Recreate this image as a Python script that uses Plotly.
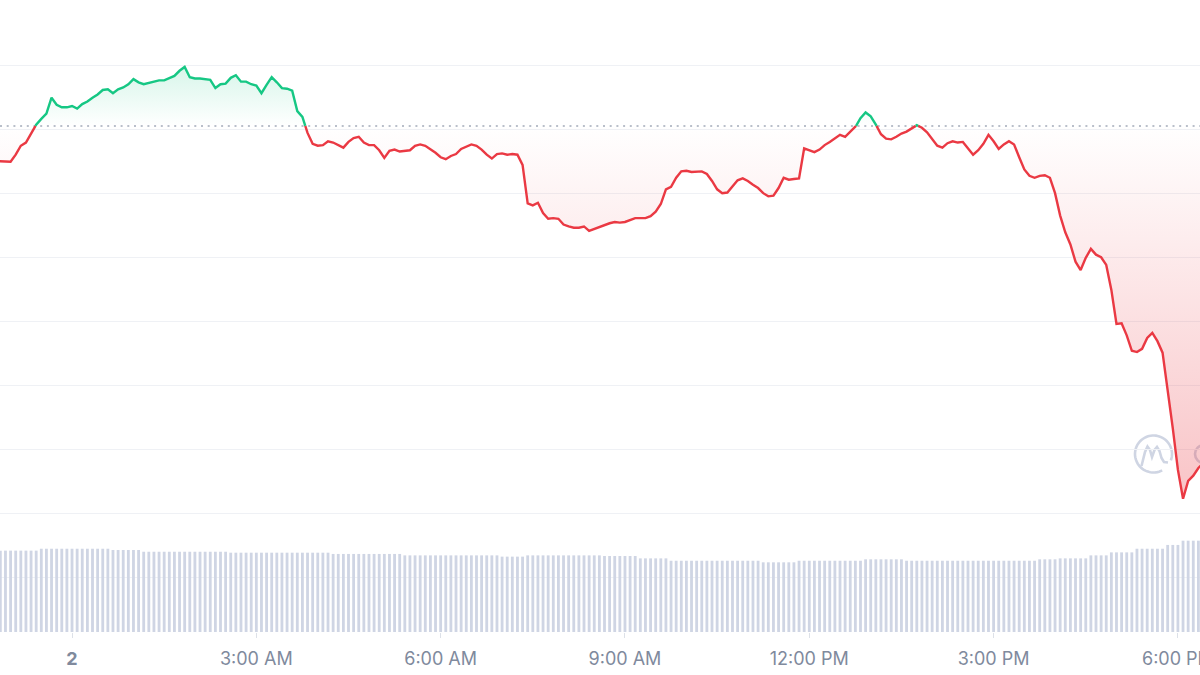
import numpy as np
import pandas as pd
import plotly.graph_objects as go

# ---------------- data ----------------
START_TIME = "2022-06-01 22:45"          # first 5-minute sample
PRICE = [
    35.50, 35.50, 35.49, 35.49, 35.60, 35.74, 35.79, 35.92, 36.07, 36.16,
    36.24, 36.49, 36.38, 36.34, 36.34, 36.36, 36.32, 36.39, 36.43, 36.49,
    36.54, 36.61, 36.62, 36.56, 36.62, 36.65, 36.70, 36.78, 36.73, 36.70,
    36.72, 36.74, 36.76, 36.76, 36.80, 36.83, 36.91, 36.97, 36.81, 36.79,
    36.79, 36.78, 36.77, 36.64, 36.70, 36.71, 36.80, 36.84, 36.74, 36.74,
    36.70, 36.68, 36.56, 36.69, 36.81, 36.73, 36.64, 36.63, 36.60, 36.28,
    36.19, 35.94, 35.77, 35.74, 35.75, 35.81, 35.79, 35.75, 35.71, 35.80,
    35.86, 35.88, 35.79, 35.75, 35.75, 35.67, 35.55, 35.66, 35.68, 35.65,
    35.66, 35.67, 35.74, 35.76, 35.74, 35.69, 35.63, 35.56, 35.53, 35.58,
    35.61, 35.69, 35.73, 35.76, 35.74, 35.68, 35.60, 35.54, 35.61, 35.62,
    35.60, 35.61, 35.60, 35.44, 34.84, 34.81, 34.85, 34.69, 34.60, 34.61,
    34.60, 34.51, 34.48, 34.46, 34.46, 34.48, 34.41, 34.44, 34.48, 34.50,
    34.53, 34.55, 34.54, 34.55, 34.58, 34.61, 34.61, 34.61, 34.64, 34.71,
    34.83, 35.06, 35.10, 35.24, 35.34, 35.35, 35.33, 35.33, 35.34, 35.30,
    35.19, 35.06, 35.00, 35.01, 35.10, 35.20, 35.23, 35.19, 35.13, 35.08,
    35.00, 34.95, 34.96, 35.08, 35.24, 35.21, 35.22, 35.23, 35.70, 35.67,
    35.64, 35.68, 35.75, 35.80, 35.85, 35.91, 35.88, 35.96, 36.03, 36.17,
    36.26, 36.20, 36.07, 35.92, 35.85, 35.84, 35.88, 35.93, 35.96, 36.01,
    36.06, 36.02, 35.95, 35.85, 35.74, 35.71, 35.78, 35.81, 35.79, 35.80,
    35.70, 35.60, 35.67, 35.77, 35.91, 35.81, 35.69, 35.76, 35.81, 35.76,
    35.56, 35.37, 35.27, 35.24, 35.27, 35.28, 35.24, 35.00, 34.65, 34.39,
    34.20, 33.93, 33.80, 33.99, 34.13, 34.04, 34.00, 33.88, 33.49, 32.96,
    32.97, 32.78, 32.54, 32.52, 32.57, 32.74, 32.82, 32.69, 32.51, 31.93,
    31.33, 30.68, 30.23, 30.51, 30.59, 30.71, 30.79,
]
VOLUME = [  # millions
    51.5, 51.5, 51.5, 51.5, 51.5, 51.5, 51.5, 51.5, 51.5, 52.7,
    52.7, 52.7, 52.7, 52.7, 52.7, 52.7, 52.7, 52.7, 52.7, 52.7,
    52.7, 52.7, 52.7, 51.9, 51.9, 51.9, 51.9, 51.9, 51.9, 50.8,
    50.8, 50.8, 50.8, 50.8, 50.8, 50.8, 50.8, 50.8, 50.8, 50.8,
    50.8, 50.8, 50.8, 50.8, 50.8, 50.8, 50.2, 50.2, 50.2, 50.2,
    50.2, 50.2, 50.2, 50.2, 50.2, 50.2, 50.2, 50.2, 50.2, 50.2,
    50.2, 50.2, 50.2, 50.2, 50.2, 50.2, 49.4, 49.4, 49.4, 49.4,
    49.4, 49.4, 49.4, 49.4, 49.4, 49.4, 49.4, 49.4, 49.4, 49.4,
    48.5, 48.5, 48.5, 48.5, 48.5, 48.5, 48.5, 48.5, 48.5, 48.5,
    48.5, 48.5, 48.5, 48.5, 48.5, 48.5, 48.5, 48.5, 48.5, 47.7,
    47.7, 47.7, 47.7, 47.7, 48.5, 48.5, 48.5, 48.5, 48.5, 48.5,
    48.5, 48.5, 48.5, 48.5, 48.5, 48.5, 48.5, 48.5, 48.5, 48.1,
    48.1, 48.1, 48.1, 48.1, 48.1, 48.1, 46.6, 46.6, 46.6, 46.6,
    46.6, 46.6, 45.1, 45.1, 45.1, 45.1, 45.1, 45.1, 45.1, 45.1,
    45.1, 45.1, 45.1, 45.1, 45.1, 45.1, 45.1, 45.1, 45.1, 45.1,
    44.1, 44.1, 44.1, 44.1, 44.1, 44.1, 44.1, 45.1, 45.1, 45.1,
    45.1, 45.1, 45.1, 45.1, 45.1, 45.1, 45.1, 45.1, 45.1, 45.1,
    46.0, 46.0, 46.0, 46.0, 46.0, 46.0, 46.0, 46.0, 45.1, 45.1,
    45.1, 45.1, 45.1, 45.1, 45.1, 45.1, 45.1, 45.1, 45.1, 45.1,
    45.1, 45.1, 45.1, 45.1, 45.1, 45.1, 45.1, 45.1, 45.1, 45.1,
    45.1, 45.1, 45.1, 45.1, 46.0, 46.0, 46.0, 46.0, 46.6, 46.6,
    46.6, 46.6, 46.6, 46.6, 48.5, 48.5, 48.5, 48.5, 50.4, 50.4,
    50.4, 50.4, 50.4, 52.7, 52.7, 52.7, 52.7, 52.7, 52.7, 55.1,
    55.1, 55.1, 57.8, 57.8, 57.8, 57.8, 57.8,
]
OPEN_PRICE = 36.05
TICK_TIMES = ["2022-06-02 00:00", "2022-06-02 03:00", "2022-06-02 06:00",
              "2022-06-02 09:00", "2022-06-02 12:00", "2022-06-02 15:00",
              "2022-06-02 18:00"]
TICK_LABELS = ["<b>2</b>", "3:00 AM", "6:00 AM", "9:00 AM", "12:00 PM",
               "3:00 PM", "6:00 PM"]
GRID_LEVELS = [29, 30, 31, 32, 33, 34, 35, 36, 37]
X_RANGE = ["2022-06-01 22:49:40", "2022-06-02 18:21:34"]
Y_RANGE = [28.1505, 38.0147]
VOL_RANGE = [0, 400]

assert len(PRICE) == len(VOLUME)

# ---------------- styles ----------------
GREEN = "#16c784"
RED = "#ea3943"
BAR = "#cfd5e4"
GRID = "#eff1f5"
LABEL = "#808a9d"
FONT = "Inter, Roboto, sans-serif"

times = pd.date_range(START_TIME, periods=len(PRICE), freq="5min")

# insert crossing points with the open price so the colours split cleanly
ts, ps = [], []
for k in range(len(PRICE)):
    if k > 0:
        a = PRICE[k - 1] - OPEN_PRICE
        b = PRICE[k] - OPEN_PRICE
        if a * b < 0:
            f = a / (a - b)
            ts.append(times[k - 1] + (times[k] - times[k - 1]) * f)
            ps.append(OPEN_PRICE)
    ts.append(times[k])
    ps.append(PRICE[k])

upper = [max(p, OPEN_PRICE) for p in ps]
lower = [min(p, OPEN_PRICE) for p in ps]
green_line = [p if p >= OPEN_PRICE else None for p in ps]
red_line = [p if p <= OPEN_PRICE else None for p in ps]
base = [OPEN_PRICE] * len(ps)

fig = go.Figure()

fig.add_trace(go.Bar(x=times, y=VOLUME, marker=dict(color=BAR, line=dict(width=0)),
                     yaxis="y2", hoverinfo="skip", showlegend=False))

fig.add_trace(go.Scatter(x=ts, y=base, mode="lines", line=dict(width=0),
                         hoverinfo="skip", showlegend=False))
fig.add_trace(go.Scatter(
    x=ts, y=upper, mode="lines", line=dict(width=0), fill="tonexty",
    fillgradient=dict(type="vertical",
                      colorscale=[[0, "rgba(22,199,132,0)"], [1, "rgba(22,199,132,0.17)"]],
                      start=OPEN_PRICE, stop=max(PRICE)),
    hoverinfo="skip", showlegend=False))
fig.add_trace(go.Scatter(x=ts, y=base, mode="lines", line=dict(width=0),
                         hoverinfo="skip", showlegend=False))
fig.add_trace(go.Scatter(
    x=ts, y=lower, mode="lines", line=dict(width=0), fill="tonexty",
    fillgradient=dict(type="vertical",
                      colorscale=[[0, "rgba(234,57,67,0.30)"], [1, "rgba(234,57,67,0)"]],
                      start=min(PRICE), stop=OPEN_PRICE),
    hoverinfo="skip", showlegend=False))

fig.add_trace(go.Scatter(x=ts, y=red_line, mode="lines",
                         line=dict(color=RED, width=2.4), showlegend=False))
fig.add_trace(go.Scatter(x=ts, y=green_line, mode="lines",
                         line=dict(color=GREEN, width=2.4), showlegend=False))

# ---------------- watermark (decoration) ----------------
PLOT_H = 632.0


def px(x):
    return x / 1200.0


def py(y):
    return 1 - y / PLOT_H


cx, cy, r = 1153.5, 454.0, 18.5
ang = np.linspace(np.radians(62), np.radians(380), 60)
arc = "M " + " L ".join(f"{px(cx + r*np.cos(t)):.5f},{py(cy + r*np.sin(t)):.5f}" for t in ang)
m_pts = [(1141.5, 466), (1145, 452), (1147.5, 446.5), (1150, 450), (1152, 457),
         (1154.5, 450), (1157, 447), (1159.5, 451), (1161.5, 458), (1164, 462), (1168, 462.5)]
m_path = "M " + " L ".join(f"{px(x):.5f},{py(y):.5f}" for x, y in m_pts)
shapes = [
    dict(type="path", path=arc, xref="paper", yref="paper",
         line=dict(color="#cfd5e3", width=2.6), layer="below"),
    dict(type="path", path=m_path, xref="paper", yref="paper",
         line=dict(color="#cfd5e3", width=2.6), layer="below"),
    dict(type="circle", xref="paper", yref="paper",
         x0=px(1195), x1=px(1213), y0=py(463), y1=py(445),
         line=dict(color="#cfd5e3", width=2.6), layer="below"),
    dict(type="line", xref="paper", x0=0, x1=1, yref="y", y0=OPEN_PRICE, y1=OPEN_PRICE,
         line=dict(color="#a3abb9", width=1.5, dash="2px,4.7px"), layer="below"),
]

fig.update_layout(
    width=1200, height=675,
    margin=dict(l=0, r=0, t=0, b=43, autoexpand=False),
    paper_bgcolor="white", plot_bgcolor="white",
    showlegend=False, bargap=0.45,
    shapes=shapes,
    xaxis=dict(type="date", range=X_RANGE, tickvals=TICK_TIMES, ticktext=TICK_LABELS,
               showgrid=False, zeroline=False, showline=False, automargin=False,
               ticks="outside", ticklen=5, tickwidth=1, tickcolor="#dde1e8",
               ticklabelstandoff=5, ticklabeloverflow="allow",
               tickfont=dict(family=FONT, size=18, color=LABEL)),
    yaxis=dict(range=Y_RANGE, tickvals=GRID_LEVELS, showticklabels=False, automargin=False,
               gridcolor=GRID, gridwidth=1, zeroline=False, showline=False, ticks=""),
    yaxis2=dict(range=VOL_RANGE, overlaying="y", visible=False, showgrid=False),
    font=dict(family=FONT, color=LABEL),
)

fig.write_html("out.html", config={"displayModeBar": False},
               post_script="document.body.style.margin='0';document.body.style.overflow='hidden';")
